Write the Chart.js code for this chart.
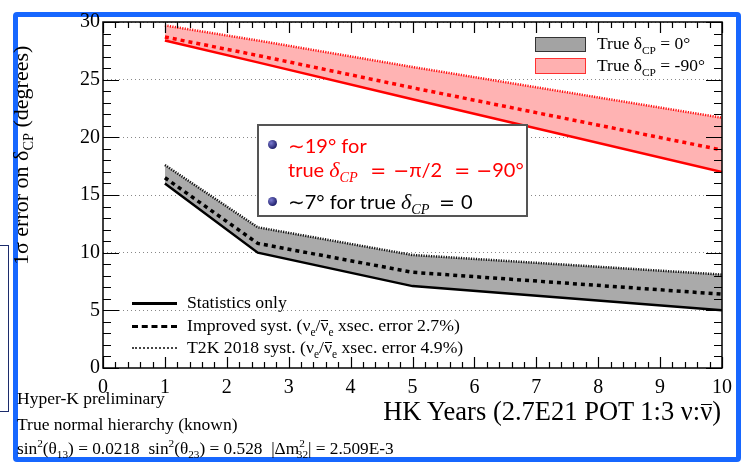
<!DOCTYPE html>
<html>
<head>
<meta charset="utf-8">
<script src="https://cdn.jsdelivr.net/npm/chart.js@4.4.1/dist/chart.umd.min.js"></script>
<style>
  html, body { margin:0; padding:0; background:#fff; }
  #wrap { position:relative; width:744px; height:469px; overflow:hidden; font-family:"Liberation Serif", serif; color:#000; }
  #c { position:absolute; left:0; top:0; }
  .abs { position:absolute; white-space:nowrap; }
  .serif { font-family:"Liberation Serif", serif; }
  .sans { font-family:"Lato", "DejaVu Sans", sans-serif; }
  sub, sup { font-size:65%; line-height:0; }
  .bar { position:relative; }
  .bar::after { content:""; position:absolute; left:1px; right:0; top:0.3em; border-top:1.2px solid currentColor; }
  .m { display:inline-block; }
  .c { text-align:center; }
  .op { font-family:"DejaVu Sans", sans-serif; font-size:19px; }
  .dl { font-family:"Liberation Serif", serif; font-style:italic; font-size:22px; }
  .bullet { position:absolute; width:9px; height:9px; border-radius:50%;
    background:radial-gradient(circle at 35% 35%, #7a7ad0, #22226e 70%); }
  .sample { position:absolute; width:45px; height:0; }
</style>
</head>
<body>
<div id="wrap">
  <!-- slide decorations (behind the canvas) -->
  <div class="abs" style="left:13px;top:12px;width:728px;height:450px;box-sizing:border-box;border:5px solid #1767ff;border-radius:4px;"></div>
  <div class="abs" style="left:-10px;top:245px;width:17px;height:165px;border:1.5px solid #1c2c6c;"></div>

  <canvas id="c" width="744" height="469"></canvas>

  <!-- axis titles -->
  <div class="abs serif" style="left:21px;top:265px;font-size:22px;line-height:24px;transform-origin:0 0;transform:rotate(-90deg) translate(0,-50%);">1σ error on δ<sub>CP</sub> (degrees)</div>
  <div class="abs serif" style="right:23px;top:396px;font-size:26.5px;line-height:31px;">HK Years (2.7E21 POT 1:3 ν:<span class="bar">ν</span>)</div>

  <!-- bottom-left notes -->
  <div class="abs serif" style="left:17px;top:388px;font-size:17.5px;line-height:20px;">Hyper-K preliminary</div>
  <div class="abs serif" style="left:17px;top:414px;font-size:17.5px;line-height:20px;">True normal hierarchy (known)</div>
  <div class="abs serif" style="left:17px;top:439px;font-size:17.3px;line-height:20px;">sin<sup>2</sup>(θ<sub>13</sub>) = 0.0218&nbsp; sin<sup>2</sup>(θ<sub>23</sub>) = 0.528&nbsp; |Δm<sup>2</sup><sub style="margin-left:-8px">32</sub>| = 2.509E-3</div>

  <!-- top-right legend -->
  <div class="abs" style="left:535px;top:37px;width:51px;height:15px;box-sizing:border-box;background:#a3a3a3;border:1px solid #333;"></div>
  <div class="abs serif" style="left:597px;top:33px;font-size:17.5px;line-height:21px;">True δ<sub>CP</sub> = 0°</div>
  <div class="abs" style="left:535px;top:58px;width:51px;height:16px;box-sizing:border-box;background:#ffb0b0;border:1px solid #ff3030;"></div>
  <div class="abs serif" style="left:597px;top:55px;font-size:17.5px;line-height:21px;">True δ<sub>CP</sub> = -90°</div>

  <!-- bottom-left line legend -->
  <div class="sample" style="left:132px;top:302px;border-top:3px solid #000;"></div>
  <div class="abs serif" style="left:187px;top:292px;font-size:17.7px;line-height:21px;">Statistics only</div>
  <div class="sample" style="left:132px;top:325px;border-top:3px dashed #000;"></div>
  <div class="abs serif" style="left:187px;top:315px;font-size:17.7px;line-height:21px;">Improved syst. (ν<sub>e</sub>/<span class="bar">ν</span><sub>e</sub> xsec. error 2.7%)</div>
  <div class="sample" style="left:132px;top:347px;border-top:2px dotted #444;"></div>
  <div class="abs serif" style="left:187px;top:337px;font-size:17.7px;line-height:21px;">T2K 2018 syst. (ν<sub>e</sub>/<span class="bar">ν</span><sub>e</sub> xsec. error 4.9%)</div>

  <!-- annotation box -->
  <div class="abs" style="left:257px;top:124px;width:271px;height:93px;box-sizing:border-box;border:2px solid #555;background:#fff;"></div>
  <div class="bullet" style="left:268px;top:140px;"></div>
  <div class="abs sans" style="left:288px;top:133px;font-size:20px;line-height:24px;color:#ff0000;">∼19° for</div>
  <div class="abs sans" style="left:288px;top:157px;font-size:20px;line-height:24px;color:#ff0000;">true <span class="m dl" style="width:37px">δ<sub>CP</sub></span><span class="m c op" style="width:24px">=</span><span class="m" style="width:58px;padding-left:3px;box-sizing:border-box;"><span class="op">−</span>π/2</span><span class="m c op" style="width:28px">=</span><span class="op">−</span>90°</div>
  <div class="bullet" style="left:268px;top:197px;"></div>
  <div class="abs sans" style="left:288px;top:189px;font-size:20px;line-height:24px;">∼7° for true <span class="m dl" style="width:35px">δ<sub>CP</sub></span><span class="m c op" style="width:22px">=</span><span style="margin-left:3px">0</span></div>
</div>

<script>
// HK running years
const years = [1, 2.5, 5, 10];

// true dCP = -90 deg
const redStat = [28.4, 26.5, 23.3, 17.0];
const redImproved = [28.7, 27.1, 24.3, 18.9];
const redT2K = [29.7, 28.4, 26.1, 21.7];

// true dCP = 0 deg
const blackStat = [16.0, 10.0, 7.1, 5.0];
const blackImproved = [16.5, 10.8, 8.3, 6.4];
const blackT2K = [17.6, 12.2, 9.8, 8.1];

const xTicks = [0, 1, 2, 3, 4, 5, 6, 7, 8, 9, 10];
const yTicks = [0, 5, 10, 15, 20, 25, 30];

const toXY = (vals) => vals.map((v, i) => ({ x: years[i], y: v }));

// ROOT-like frame with inward ticks on all four sides
const rootFrame = {
  id: 'rootFrame',
  afterDatasetsDraw(chart) {
    const { ctx, chartArea: a, scales: { x, y } } = chart;
    ctx.save();
    ctx.strokeStyle = '#000';
    ctx.lineWidth = 1.2;
    ctx.beginPath();
    for (let i = 0; i <= 30; i++) {
      const p = Math.round(y.getPixelForValue(i)) + 0.5;
      const len = i % 5 === 0 ? 16 : 8;
      ctx.moveTo(a.left, p); ctx.lineTo(a.left + len, p);
      ctx.moveTo(a.right, p); ctx.lineTo(a.right - len, p);
    }
    for (let i = 0; i <= 50; i++) {
      const p = Math.round(x.getPixelForValue(i / 5)) + 0.5;
      const len = i % 5 === 0 ? 11 : 6;
      ctx.moveTo(p, a.bottom); ctx.lineTo(p, a.bottom - len);
      ctx.moveTo(p, a.top); ctx.lineTo(p, a.top + len);
    }
    ctx.stroke();
    ctx.lineWidth = 1.5;
    ctx.strokeRect(a.left, a.top, a.right - a.left, a.bottom - a.top);
    ctx.restore();
  }
};

// order 2 = drawn first (the band), order 1 = lines on top
const line = (vals, color, dash, width, extra) => Object.assign({
  data: toXY(vals),
  borderColor: color,
  borderDash: dash,
  borderWidth: width,
  pointRadius: 0,
  tension: 0,
  fill: false,
  order: 1
}, extra || {});

new Chart(document.getElementById('c'), {
  type: 'line',
  data: {
    datasets: [
      line(redT2K, '#ff1010', [1.2, 1.3], 2.5, { fill: '+2', order: 2, backgroundColor: '#ffb3b3' }),
      line(redImproved, '#ff0000', [4, 4], 3.5),
      line(redStat, '#ff0000', [], 2.5),
      line(blackT2K, '#111', [1.2, 1.3], 2.5, { fill: '+2', order: 2, backgroundColor: '#aaaaaa' }),
      line(blackImproved, '#000', [4, 4], 3.5),
      line(blackStat, '#000', [], 2.5)
    ]
  },
  options: {
    responsive: false,
    animation: false,
    devicePixelRatio: 1,
    layout: { padding: { left: 0, top: 22, right: 22, bottom: 0 } },
    plugins: { legend: { display: false }, tooltip: { enabled: false } },
    scales: {
      x: {
        type: 'linear', min: 0, max: 10,
        afterFit: (s) => { s.height = 101; },
        afterBuildTicks: (s) => { s.ticks = xTicks.map(v => ({ value: v })); },
        ticks: { color: '#000', font: { family: 'Liberation Serif', size: 20 }, padding: 0, maxRotation: 0 },
        grid: { display: false },
        border: { display: false }
      },
      y: {
        min: 0, max: 30,
        afterFit: (s) => { s.width = 103; },
        afterBuildTicks: (s) => { s.ticks = yTicks.map(v => ({ value: v })); },
        ticks: { color: '#000', font: { family: 'Liberation Serif', size: 20 }, padding: 3 },
        grid: {
          drawTicks: false,
          color: (c) => (c.tick && c.tick.value > 0 ? '#888' : 'rgba(0,0,0,0)'),
          lineWidth: 1
        },
        border: { display: false, dash: [1, 3] }
      }
    }
  },
  plugins: [rootFrame]
});
</script>
</body>
</html>
